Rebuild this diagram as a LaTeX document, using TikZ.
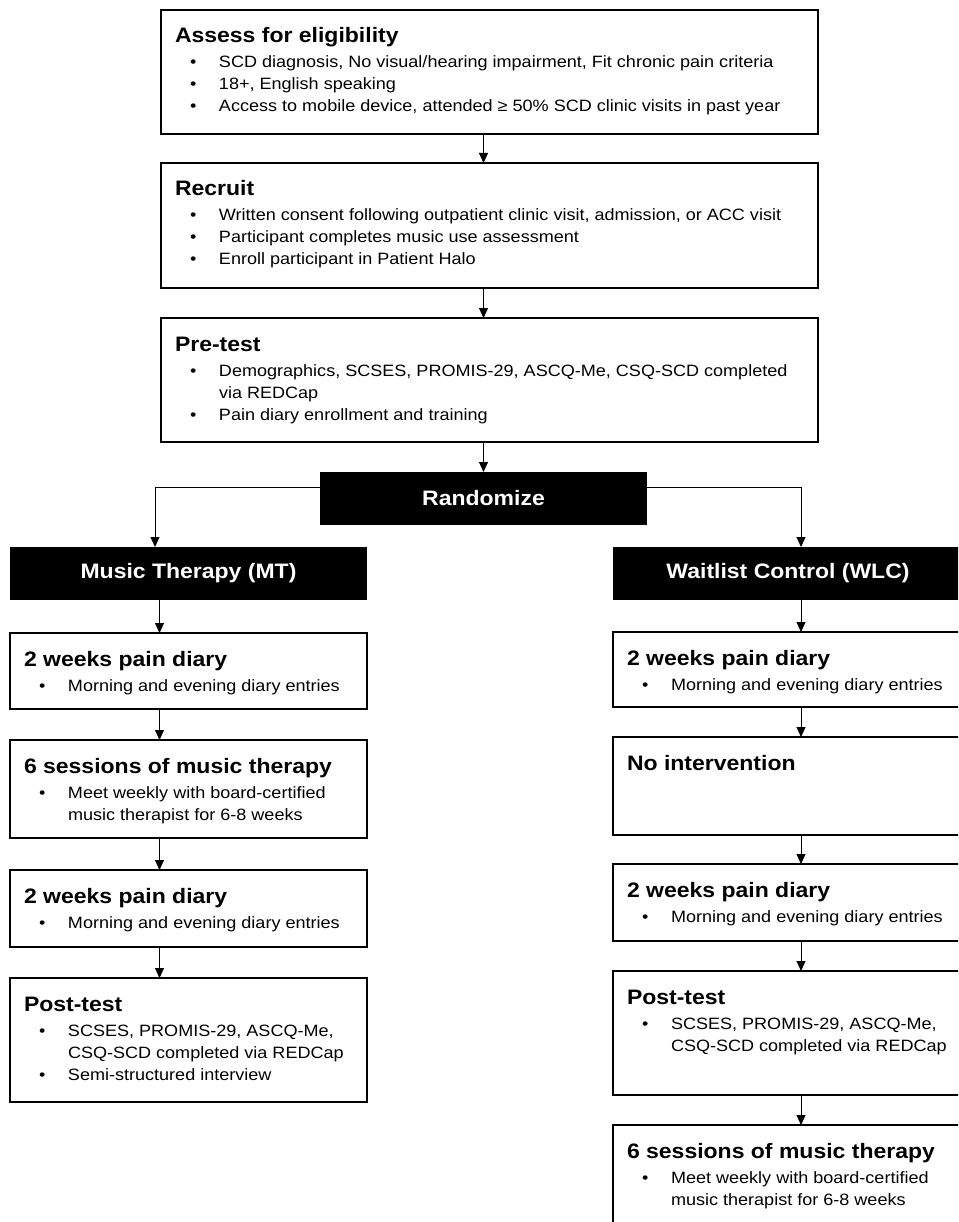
\documentclass[tikz,border=0pt]{standalone}
\usepackage{fontspec}
\setmainfont[FakeStretch=1.1]{Liberation Sans}
\usetikzlibrary{positioning,arrows.meta}

\newcommand{\headfont}{\fontsize{20.9}{24}\bfseries}
\newcommand{\bodyfont}{\fontsize{16.4}{22}\selectfont}
\newcommand{\stagehead}[1]{{\headfont\rule{0pt}{33pt}\hspace*{14pt}#1\par}\vspace{3pt}}
\newcommand{\stageitem}[1]{\par\noindent\hangindent=58pt\hangafter=1\hspace*{29pt}\makebox[29pt][l]{\textbullet}#1\par}
\newcommand{\stagebox}[3]{\parbox[c][#2][t]{#1}{\bodyfont\raggedright #3}}

\begin{document}
\begin{tikzpicture}[x=1pt, y=1pt,
  stage/.style={draw, line width=1.3pt, fill=white, inner sep=0pt, outer sep=0pt, anchor=north west},
  banner/.style={fill=black, text=white, inner sep=0pt, outer sep=0pt, font=\headfont, minimum height=53pt},
  flow/.style={line width=1pt, -{Triangle[length=10pt,width=9pt]}}]
\useasboundingbox (0,0) rectangle (958,-1222);
\clip (0,0) rectangle (958,-1222);

\coordinate (splitL) at (155,0);
\coordinate (colL) at (159.5,0);
\coordinate (colR) at (801,0);

% common trunk
\node[stage] (assess) at (161,-10) {\stagebox{657pt}{124pt}{%
  \stagehead{Assess for eligibility}
  \stageitem{SCD diagnosis, No visual/hearing impairment, Fit chronic pain criteria}
  \stageitem{18+, English speaking}
  \stageitem{Access to mobile device, attended ≥ 50\% SCD clinic visits in past year}}};
\node[stage, below=29pt of assess] (recruit) {\stagebox{657pt}{125pt}{%
  \stagehead{Recruit}
  \stageitem{Written consent following outpatient clinic visit, admission, or ACC visit}
  \stageitem{Participant completes music use assessment}
  \stageitem{Enroll participant in Patient Halo}}};
\node[stage, below=30pt of recruit] (pretest) {\stagebox{657pt}{124pt}{%
  \stagehead{Pre-test}
  \stageitem{Demographics, SCSES, PROMIS-29, ASCQ-Me, CSQ-SCD completed\newline via REDCap}
  \stageitem{Pain diary enrollment and training}}};
\node[banner, minimum width=327pt, below=30pt of pretest, xshift=-6pt] (rand) {Randomize};

% arms
\node[banner, anchor=north west, minimum width=357pt] (mt) at (10,-547) {Music Therapy (MT)};
\node[banner, anchor=north west, minimum width=350pt] (wlc) at (613,-547) {Waitlist Control (WLC)};

% music therapy arm
\node[stage, below=33pt of mt] (mtdiary) {\stagebox{357pt}{76pt}{%
  \stagehead{2 weeks pain diary}
  \stageitem{Morning and evening diary entries}}};
\node[stage, below=31pt of mtdiary] (mtsess) {\stagebox{357pt}{98pt}{%
  \stagehead{6 sessions of music therapy}
  \stageitem{Meet weekly with board-certified\newline music therapist for 6-8 weeks}}};
\node[stage, below=32pt of mtsess] (mtdiarytwo) {\stagebox{357pt}{77pt}{%
  \stagehead{2 weeks pain diary}
  \stageitem{Morning and evening diary entries}}};
\node[stage, below=31pt of mtdiarytwo] (mtpost) {\stagebox{357pt}{124pt}{%
  \stagehead{Post-test}
  \stageitem{SCSES, PROMIS-29, ASCQ-Me,\newline CSQ-SCD completed via REDCap}
  \stageitem{Semi-structured interview}}};

% waitlist arm
\node[stage, below=32pt of wlc.south west, anchor=north west] (wldiary) {\stagebox{357pt}{75pt}{%
  \stagehead{2 weeks pain diary}
  \stageitem{Morning and evening diary entries}}};
\node[stage, below=30pt of wldiary] (wlnone) {\stagebox{357pt}{98pt}{%
  \stagehead{No intervention}}};
\node[stage, below=29pt of wlnone] (wldiarytwo) {\stagebox{357pt}{77pt}{%
  \stagehead{2 weeks pain diary}
  \stageitem{Morning and evening diary entries}}};
\node[stage, below=30pt of wldiarytwo] (wlpost) {\stagebox{357pt}{124pt}{%
  \stagehead{Post-test}
  \stageitem{SCSES, PROMIS-29, ASCQ-Me,\newline CSQ-SCD completed via REDCap}}};
\node[stage, below=30pt of wlpost] (wlsess) {\stagebox{357pt}{98pt}{%
  \stagehead{6 sessions of music therapy}
  \stageitem{Meet weekly with board-certified\newline music therapist for 6-8 weeks}}};

\foreach \a/\b in {assess/recruit, recruit/pretest, pretest/rand} {
  \draw[flow] (\a.south -| rand) -- (\b.north -| rand);
}
\draw[flow] ([yshift=11.5pt]rand.west) -| (mt.north -| splitL);
\draw[flow] ([yshift=11.5pt]rand.east) -| (wlc.north -| colR);
\foreach \a/\b in {mt/mtdiary, mtdiary/mtsess, mtsess/mtdiarytwo, mtdiarytwo/mtpost} {
  \draw[flow] (\a.south -| colL) -- (\b.north -| colL);
}
\foreach \a/\b in {wlc/wldiary, wldiary/wlnone, wlnone/wldiarytwo, wldiarytwo/wlpost, wlpost/wlsess} {
  \draw[flow] (\a.south -| colR) -- (\b.north -| colR);
}
\end{tikzpicture}
\end{document}
